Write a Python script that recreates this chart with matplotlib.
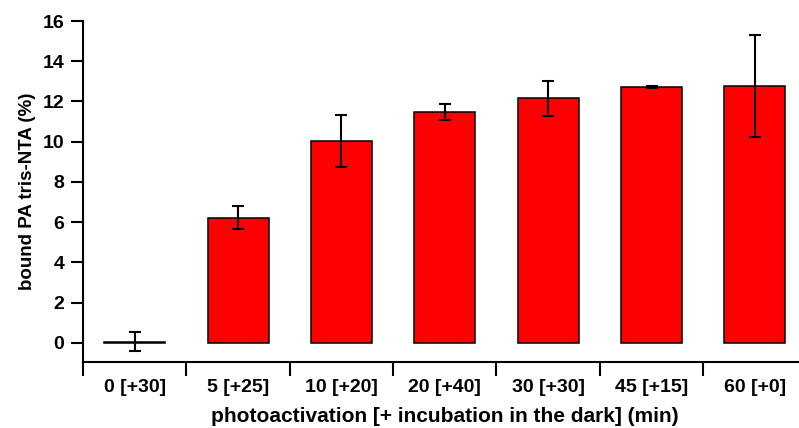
import numpy as np
import matplotlib.pyplot as plt

plt.rcParams['font.family'] = ['Liberation Sans', 'DejaVu Sans']
plt.rcParams['font.weight'] = 'bold'

# data
categories = ['0 [+30]', '5 [+25]', '10 [+20]', '20 [+40]', '30 [+30]', '45 [+15]', '60 [+0]']
bound = [0.05, 6.22, 10.05, 11.47, 12.15, 12.72, 12.75]
err = [0.47, 0.58, 1.3, 0.38, 0.88, 0.07, 2.53]

fig = plt.figure(figsize=(7.99, 4.28), dpi=100)
ax = fig.add_axes([83 / 799, 1 - 362 / 428, 723.6 / 799, 341 / 428])

x = np.arange(len(categories))
ax.bar(x, bound, width=0.59, color='#ff0000', edgecolor='black', linewidth=1.1, zorder=2)
ax.errorbar(x, bound, yerr=err, fmt='none', ecolor='black', elinewidth=1.5,
            capsize=4.5, capthick=1.5, zorder=3)

ax.set_xlim(-0.5, len(categories) - 0.5)
ax.set_ylim(-0.95, 16)
ax.set_yticks(np.arange(0, 17, 2))
ax.set_xticks(x)
ax.set_xticklabels(categories)
ax.set_xticks(np.arange(-0.5, len(categories), 1), minor=True)

for s in ['top', 'right']:
    ax.spines[s].set_visible(False)
for s in ['left', 'bottom']:
    ax.spines[s].set_linewidth(1.5)
ax.spines['left'].set_bounds(-0.95, 16)

ax.tick_params(axis='y', length=8.5, width=1.5, pad=5, labelsize=14)
ax.tick_params(axis='x', which='major', length=0, pad=12, labelsize=14)
ax.tick_params(axis='x', which='minor', length=10, width=1.5)

ax.set_ylabel('bound PA tris-NTA (%)', fontsize=13.5, fontweight='bold', labelpad=5)
ax.set_xlabel('photoactivation [+ incubation in the dark] (min)', fontsize=15,
              fontweight='bold', labelpad=8.5)

fig.savefig('out.png', dpi=100)
